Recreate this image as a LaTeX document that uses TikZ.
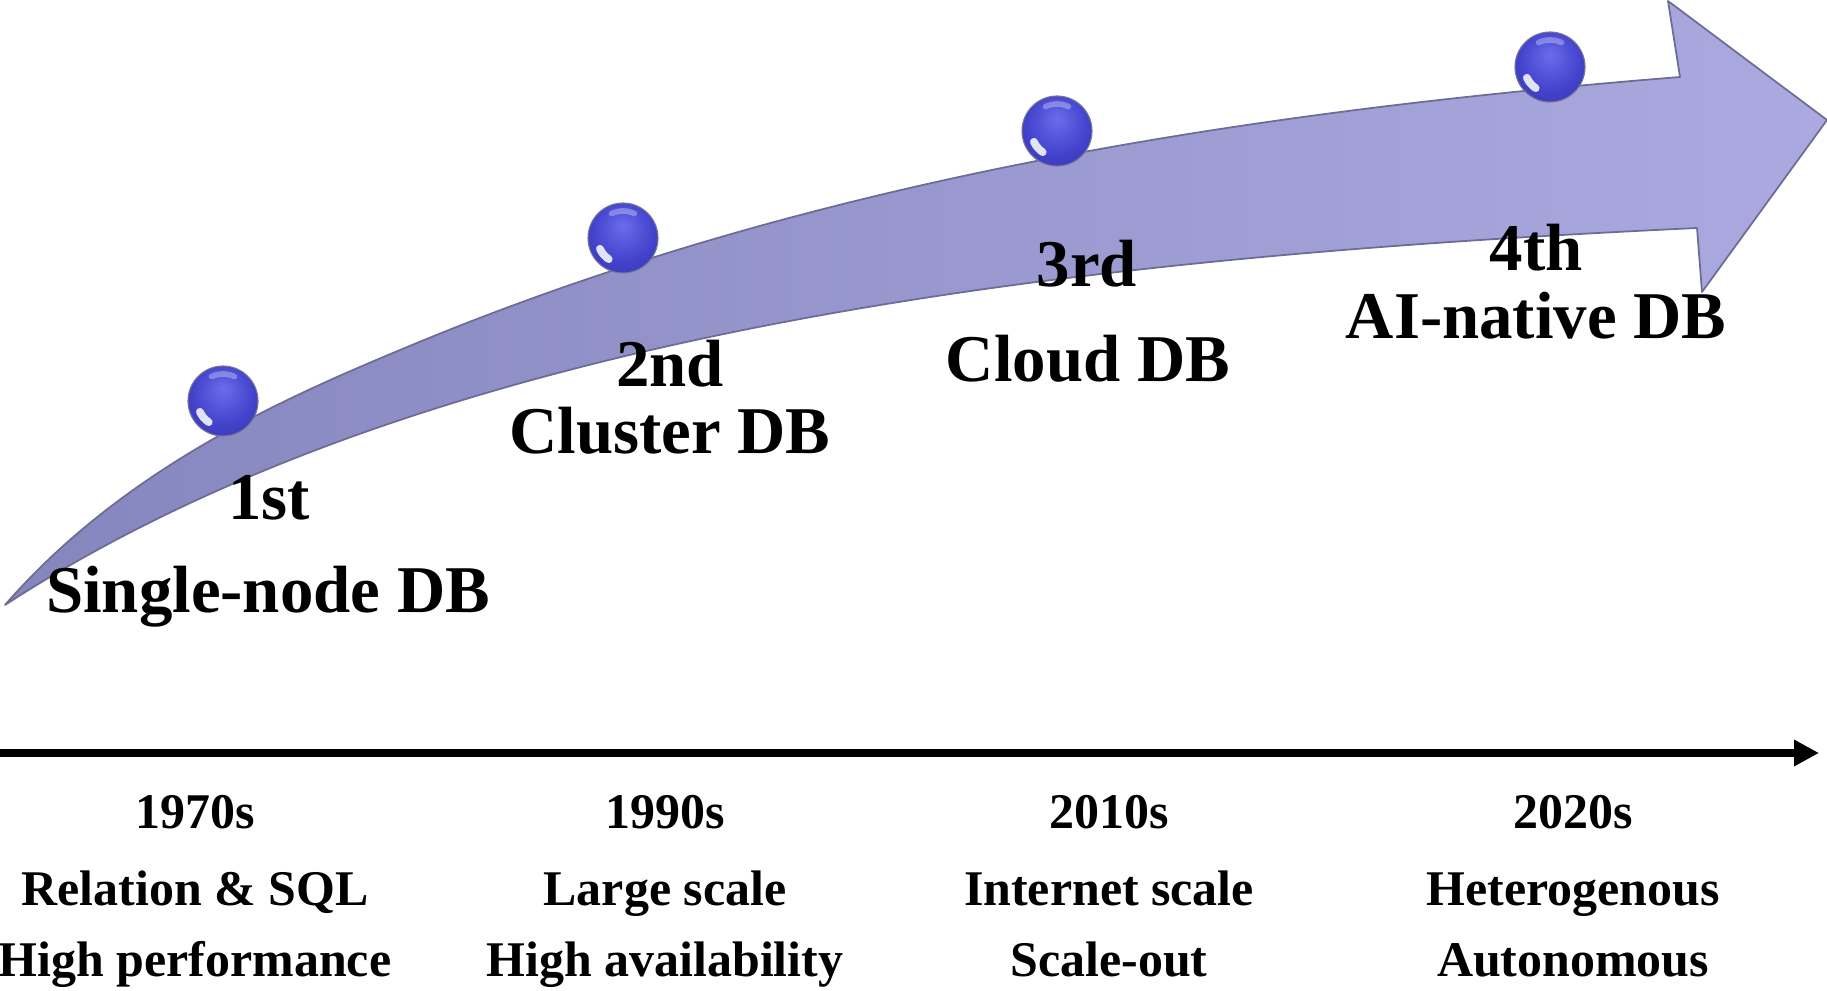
\documentclass[tikz,border=0pt]{standalone}
\usepackage{fontspec}
\setmainfont{Liberation Serif}
\usetikzlibrary{arrows.meta}

\definecolor{shaftL}{RGB}{134,134,190}
\definecolor{shaftR}{RGB}{170,170,224}
\definecolor{shaftEdge}{RGB}{108,108,150}
\definecolor{orbhi}{RGB}{108,108,236}
\definecolor{orbmid}{RGB}{66,66,204}
\definecolor{orbdark}{RGB}{36,36,140}
\definecolor{orbrim}{RGB}{120,120,150}

% glossy sphere: light core slightly above centre, dark rim
\pgfdeclareradialshading{orbshade}{\pgfpoint{0bp}{9bp}}{%
  color(0bp)=(orbhi); color(22bp)=(orbmid); color(42bp)=(orbmid!80!black); color(50bp)=(orbdark)}

\tikzset{
  orb/.style={circle, minimum size=0.7cm, inner sep=0pt, shading=orbshade,
              draw=orbrim, line width=0.3pt},
  gleam/.style={white, line cap=round, opacity=0.85},
  ordinal/.style={anchor=base, inner sep=0pt,
                  font=\fontsize{19pt}{22pt}\selectfont\bfseries},
  era/.style={anchor=base, inner sep=0pt,
              font=\fontsize{14.2pt}{17pt}\selectfont\bfseries},
}

\begin{document}
\begin{tikzpicture}[x=0.01cm, y=-0.01cm]
\useasboundingbox (0,0) rectangle (1827,991);

% the rising curved arrow: upper edge, head, lower edge back to the tail point
\shadedraw[left color=shaftL, right color=shaftR, draw=shaftEdge, line width=0.5pt, line join=round]
  (5,605) .. controls (125,467) and (290,396) .. (400,350)
          .. controls (800,182) and (1230,113) .. (1680,77)
  -- (1668,1) -- (1827,120) -- (1702,292) -- (1697,228)
          .. controls (1100,256) and (440,322) .. (5,605)
  -- cycle;

% milestone spheres
\foreach \n/\px/\py in {s1/223/401, s2/623/238, s3/1057/131, s4/1550/67}{
  \node[orb] (\n) at (\px,\py) {};
  \draw[gleam, line width=2.2pt] (\n.center) ++(205:0.255cm)
      arc[start angle=205, end angle=236, radius=0.255cm];
  \draw[gleam, line width=1.6pt, opacity=0.3] (\n.center) ++(65:0.27cm)
      arc[start angle=65, end angle=115, radius=0.27cm];
}

% generation labels
\node[ordinal] (g1a) at (269,519) {1st};
\node[ordinal] (g1b) at (268,612) {Single-node DB};
\node[ordinal] (g2a) at (670,386) {2nd};
\node[ordinal] (g2b) at (670,453) {Cluster DB};
\node[ordinal] (g3a) at (1087,287) {3rd};
\node[ordinal] (g3b) at (1088,381) {Cloud DB};
\node[ordinal] (g4a) at (1536,271) {4th};
\node[ordinal] (g4b) at (1536,338) {AI-native DB};

% time axis
\coordinate (axL) at (0,753);
\coordinate (axR) at (1819,753);
\draw[line width=0.08cm, -{Triangle[length=0.25cm, width=0.25cm]}] (axL) -- (axR);

% decades and their traits
\node[era] (d1) at (195,828) {1970s};
\node[era] (d1a) at (195,905) {Relation \& SQL};
\node[era] (d1b) at (195,976) {High performance};
\node[era] (d2) at (665,828) {1990s};
\node[era] (d2a) at (665,905) {Large scale};
\node[era] (d2b) at (665,976) {High availability};
\node[era] (d3) at (1109,828) {2010s};
\node[era] (d3a) at (1109,905) {Internet scale};
\node[era] (d3b) at (1109,976) {Scale-out};
\node[era] (d4) at (1573,828) {2020s};
\node[era] (d4a) at (1573,905) {Heterogenous};
\node[era] (d4b) at (1573,976) {Autonomous};
\end{tikzpicture}
\end{document}
